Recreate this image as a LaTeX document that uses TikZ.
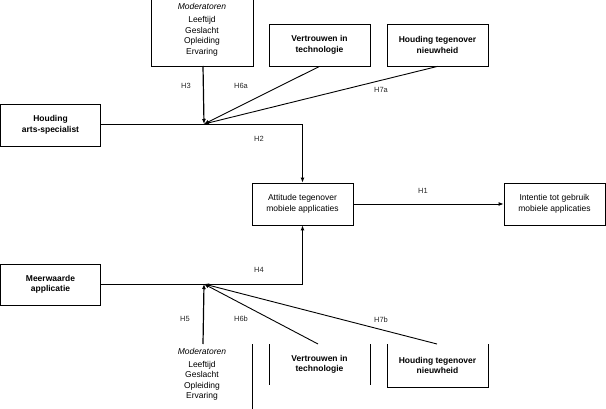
\documentclass[tikz,border=0pt]{standalone}
\usepackage{fontspec}
\setmainfont{Liberation Sans}
\usetikzlibrary{arrows.meta}
\begin{document}
\begin{tikzpicture}[x=1pt,y=-1pt,
  txt/.style={font=\fontsize{8.5}{10.5}\selectfont, align=center, inner sep=0pt},
  btxt/.style={font=\fontsize{8.5}{10.5}\selectfont\bfseries, align=center, inner sep=0pt},
  bx/.style={txt, draw, line width=0.8pt, minimum width=101pt, minimum height=42pt},
  bbx/.style={bx, font=\fontsize{8.5}{10.5}\selectfont\bfseries},
  lbl/.style={font=\fontsize{7.5}{9}\selectfont, inner sep=0pt, text=black!85},
  arr/.style={line width=0.9pt, -{Latex[length=5pt,width=4pt]}},
  marr/.style={line width=1.2pt, -{Latex[length=5pt,width=4pt]}},
  edgeline/.style={line width=0.8pt}
]
\useasboundingbox (0,0) rectangle (606,409);

% main boxes
\node[bbx, minimum width=100pt] (arts) at (50.5,125) {Houding\\arts-specialist};
\node[bbx, minimum width=100pt, minimum height=41pt] (meer) at (50.5,284.5) {Meerwaarde\\applicatie};
\node[bx] (att) at (302.5,204) {Attitude tegenover\\mobiele applicaties};
\node[bx] (int) at (554.5,204) {Intentie tot gebruik\\mobiele applicaties};

% top moderator box (partly cut)
\node[txt] (mod1) at (202,30) {\textit{Moderatoren}\\[2.5pt]Leeftijd\\Geslacht\\Opleiding\\Ervaring};
\draw[edgeline] (151,0) -- (151,66) -- (253,66) -- (253,0);
\coordinate (m1) at (203,66);

\node[bbx] (vt1) at (319.5,45) {Vertrouwen in\\technologie};
\node[bbx] (ht1) at (437.5,45) {Houding tegenover\\nieuwheid};

% bottom moderator
\node[txt] (mod2) at (202,374.5) {\textit{Moderatoren}\\[2.5pt]Leeftijd\\Geslacht\\Opleiding\\Ervaring};
\draw[edgeline] (252,344) -- (252,409);
\coordinate (m2) at (203,344);

\node[btxt] (vt2) at (319.5,364.5) {Vertrouwen in\\technologie};
\draw[edgeline] (269,344) -- (269,385);
\draw[edgeline] (370,344) -- (370,385);
\coordinate (v2) at (318,344);

\node[btxt] (ht2) at (437.5,365.5) {Houding tegenover\\nieuwheid};
\draw[edgeline] (387,344) -- (387,387) -- (488,387) -- (488,344);
\coordinate (h2) at (437,344);

% junctions
\coordinate (j1) at (204,124);
\coordinate (j2) at (204,284);

% connectors
\draw[arr] (arts.east |- j1) -- (att.north |- j1) -- (att.north);
\draw[arr] (meer.east |- j2) -- (att.south |- j2) -- (att.south);
\draw[arr] (att.east) -- (int.west);

\draw[marr] (m1) -- (j1);
\draw[arr] (vt1.south) -- (j1);
\draw[arr] (ht1.south) -- (j1);

\draw[marr] (m2) -- (j2);
\draw[arr] (v2) -- (j2);
\draw[arr] (h2) -- (j2);

% labels
\node[lbl] (lH3) at (186,86) {H3};
\node[lbl] (lH6a) at (241,86) {H6a};
\node[lbl] (lH7a) at (381,90) {H7a};
\node[lbl] (lH2) at (259,139) {H2};
\node[lbl] (lH1) at (423,191) {H1};
\node[lbl] (lH4) at (259,270) {H4};
\node[lbl] (lH5) at (185,319) {H5};
\node[lbl] (lH6b) at (241,319) {H6b};
\node[lbl] (lH7b) at (381,320) {H7b};
\end{tikzpicture}
\end{document}
